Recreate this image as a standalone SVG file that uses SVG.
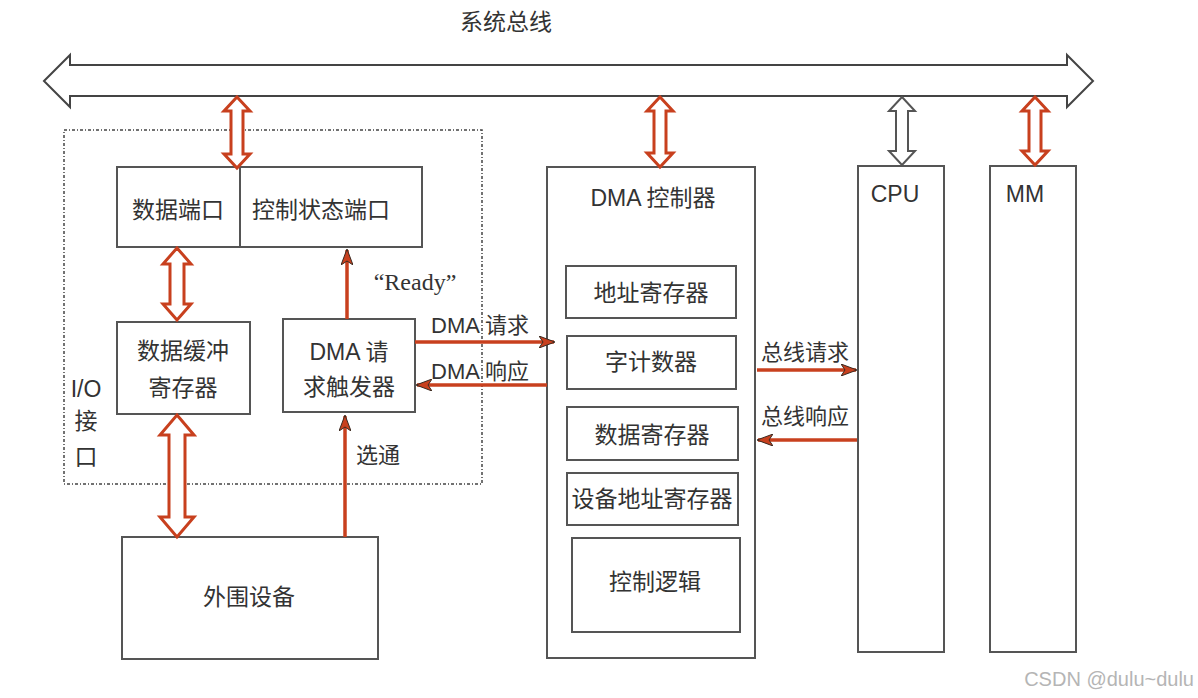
<svg xmlns="http://www.w3.org/2000/svg" width="1198" height="698" viewBox="0 0 1198 698">
<style>
.box{fill:#fff;stroke:#555;stroke-width:2}
.t{font-family:"Liberation Sans","Noto Sans CJK SC",sans-serif;font-size:23px;fill:#333;text-anchor:middle;dominant-baseline:central}
.lbl{font-family:"Liberation Sans","Noto Sans CJK SC",sans-serif;font-size:22px;fill:#333;text-anchor:middle;dominant-baseline:central}
.serif{font-family:"Liberation Serif","Noto Sans CJK SC",serif;font-size:24px;fill:#333;text-anchor:middle;dominant-baseline:central}
.red{stroke:#c8401e;stroke-width:3.5;fill:none}
.dbl{fill:#fff;stroke:#c8401e;stroke-width:3;stroke-linejoin:miter}
.dblg{fill:#fff;stroke:#555;stroke-width:2}
</style>
<defs>
<marker id="ah" viewBox="0 0 16 12" refX="15" refY="6" markerWidth="16" markerHeight="12" markerUnits="userSpaceOnUse" orient="auto">
<path d="M0,0 L16,6 L0,12 L4,6 z" fill="#c8401e" stroke="#3a2a20" stroke-width="1"/>
</marker>
</defs>
<rect width="1198" height="698" fill="#fff"/>

<g id="bus">
<path d="M44,81 L70,55 L70,65 L1067,65 L1067,55 L1093,81 L1067,107 L1067,96 L70,96 L70,107 Z" fill="#fff" stroke="#444" stroke-width="2"/>
<text class="t" x="506" y="22">系统总线</text>
</g>

<g id="io-interface">
<rect x="64" y="130" width="418" height="354" fill="none" stroke="#444" stroke-width="1.5" stroke-dasharray="3 2 1 2"/>
<text class="t" x="86" y="389">I/O</text>
<text class="t" x="86" y="421">接</text>
<text class="t" x="86" y="457">口</text>
</g>

<g id="ports">
<rect class="box" x="117" y="167" width="305" height="80"/>
<line x1="240" y1="167" x2="240" y2="247" stroke="#555" stroke-width="2"/>
<text class="t" x="178" y="210">数据端口</text>
<text class="t" x="321" y="210">控制状态端口</text>
</g>

<g id="buffer">
<rect class="box" x="117" y="322" width="133" height="92"/>
<text class="t" x="183" y="351">数据缓冲</text>
<text class="t" x="183" y="388">寄存器</text>
</g>

<g id="trigger">
<rect class="box" x="283" y="319" width="132" height="93"/>
<text class="t" x="349" y="352">DMA 请</text>
<text class="t" x="349" y="387">求触发器</text>
</g>

<g id="peripheral">
<rect class="box" x="122" y="537" width="256" height="122"/>
<text class="t" x="249" y="597">外围设备</text>
</g>

<g id="dma-controller">
<rect class="box" x="547" y="167" width="208" height="491"/>
<text class="t" x="653" y="198">DMA 控制器</text>
<rect class="box" x="566" y="266" width="170" height="52"/>
<text class="t" x="651" y="293">地址寄存器</text>
<rect class="box" x="567" y="336" width="169" height="53"/>
<text class="t" x="651" y="362">字计数器</text>
<rect class="box" x="567" y="407" width="171" height="53"/>
<text class="t" x="652" y="435">数据寄存器</text>
<rect class="box" x="567" y="473" width="171" height="52"/>
<text class="t" x="652" y="499">设备地址寄存器</text>
<rect class="box" x="572" y="538" width="168" height="94"/>
<text class="t" x="655" y="582">控制逻辑</text>
</g>

<g id="cpu">
<rect class="box" x="858" y="166" width="86" height="486"/>
<text class="t" x="895" y="194">CPU</text>
</g>

<g id="mm">
<rect class="box" x="990" y="166" width="86" height="486"/>
<text class="t" x="1025" y="194">MM</text>
</g>

<g id="connectors">
<path class="dbl" d="M237,97 L250,111 L243,111 L243,154 L250,154 L237,168 L224,154 L231,154 L231,111 L224,111 Z"/>
<path class="dbl" d="M660,97 L673,111 L666,111 L666,153 L673,153 L660,167 L647,153 L654,153 L654,111 L647,111 Z"/>
<path class="dblg" d="M902,97 L915,111 L908,111 L908,151 L915,151 L902,165 L889,151 L896,151 L896,111 L889,111 Z"/>
<path class="dbl" d="M1035,97 L1048,111 L1041,111 L1041,151 L1048,151 L1035,165 L1022,151 L1029,151 L1029,111 L1022,111 Z"/>
<path class="dbl" d="M177,248 L191,264 L184,264 L184,304 L191,304 L177,320 L163,304 L170,304 L170,264 L163,264 Z"/>
<path class="dbl" d="M177,415 L194,435 L185,435 L185,517 L194,517 L177,537 L160,517 L169,517 L169,435 L160,435 Z"/>
<line class="red" x1="347" y1="319" x2="347" y2="250" marker-end="url(#ah)"/>
<line class="red" x1="345" y1="537" x2="345" y2="416" marker-end="url(#ah)"/>
<line class="red" x1="415" y1="342" x2="554" y2="342" marker-end="url(#ah)"/>
<line class="red" x1="547" y1="385" x2="417" y2="385" marker-end="url(#ah)"/>
<line class="red" x1="757" y1="370" x2="856" y2="370" marker-end="url(#ah)"/>
<line class="red" x1="857" y1="440" x2="758" y2="440" marker-end="url(#ah)"/>
<text class="serif" x="415" y="282">“Ready”</text>
<text class="lbl" x="480" y="325">DMA 请求</text>
<text class="lbl" x="480" y="371">DMA 响应</text>
<text class="lbl" x="378" y="455">选通</text>
<text class="lbl" x="805" y="352">总线请求</text>
<text class="lbl" x="805" y="416">总线响应</text>
</g>

<text x="1194" y="686" font-family="Liberation Sans, sans-serif" font-size="20" fill="#b5b5b5" text-anchor="end">CSDN @dulu~dulu</text>
</svg>
